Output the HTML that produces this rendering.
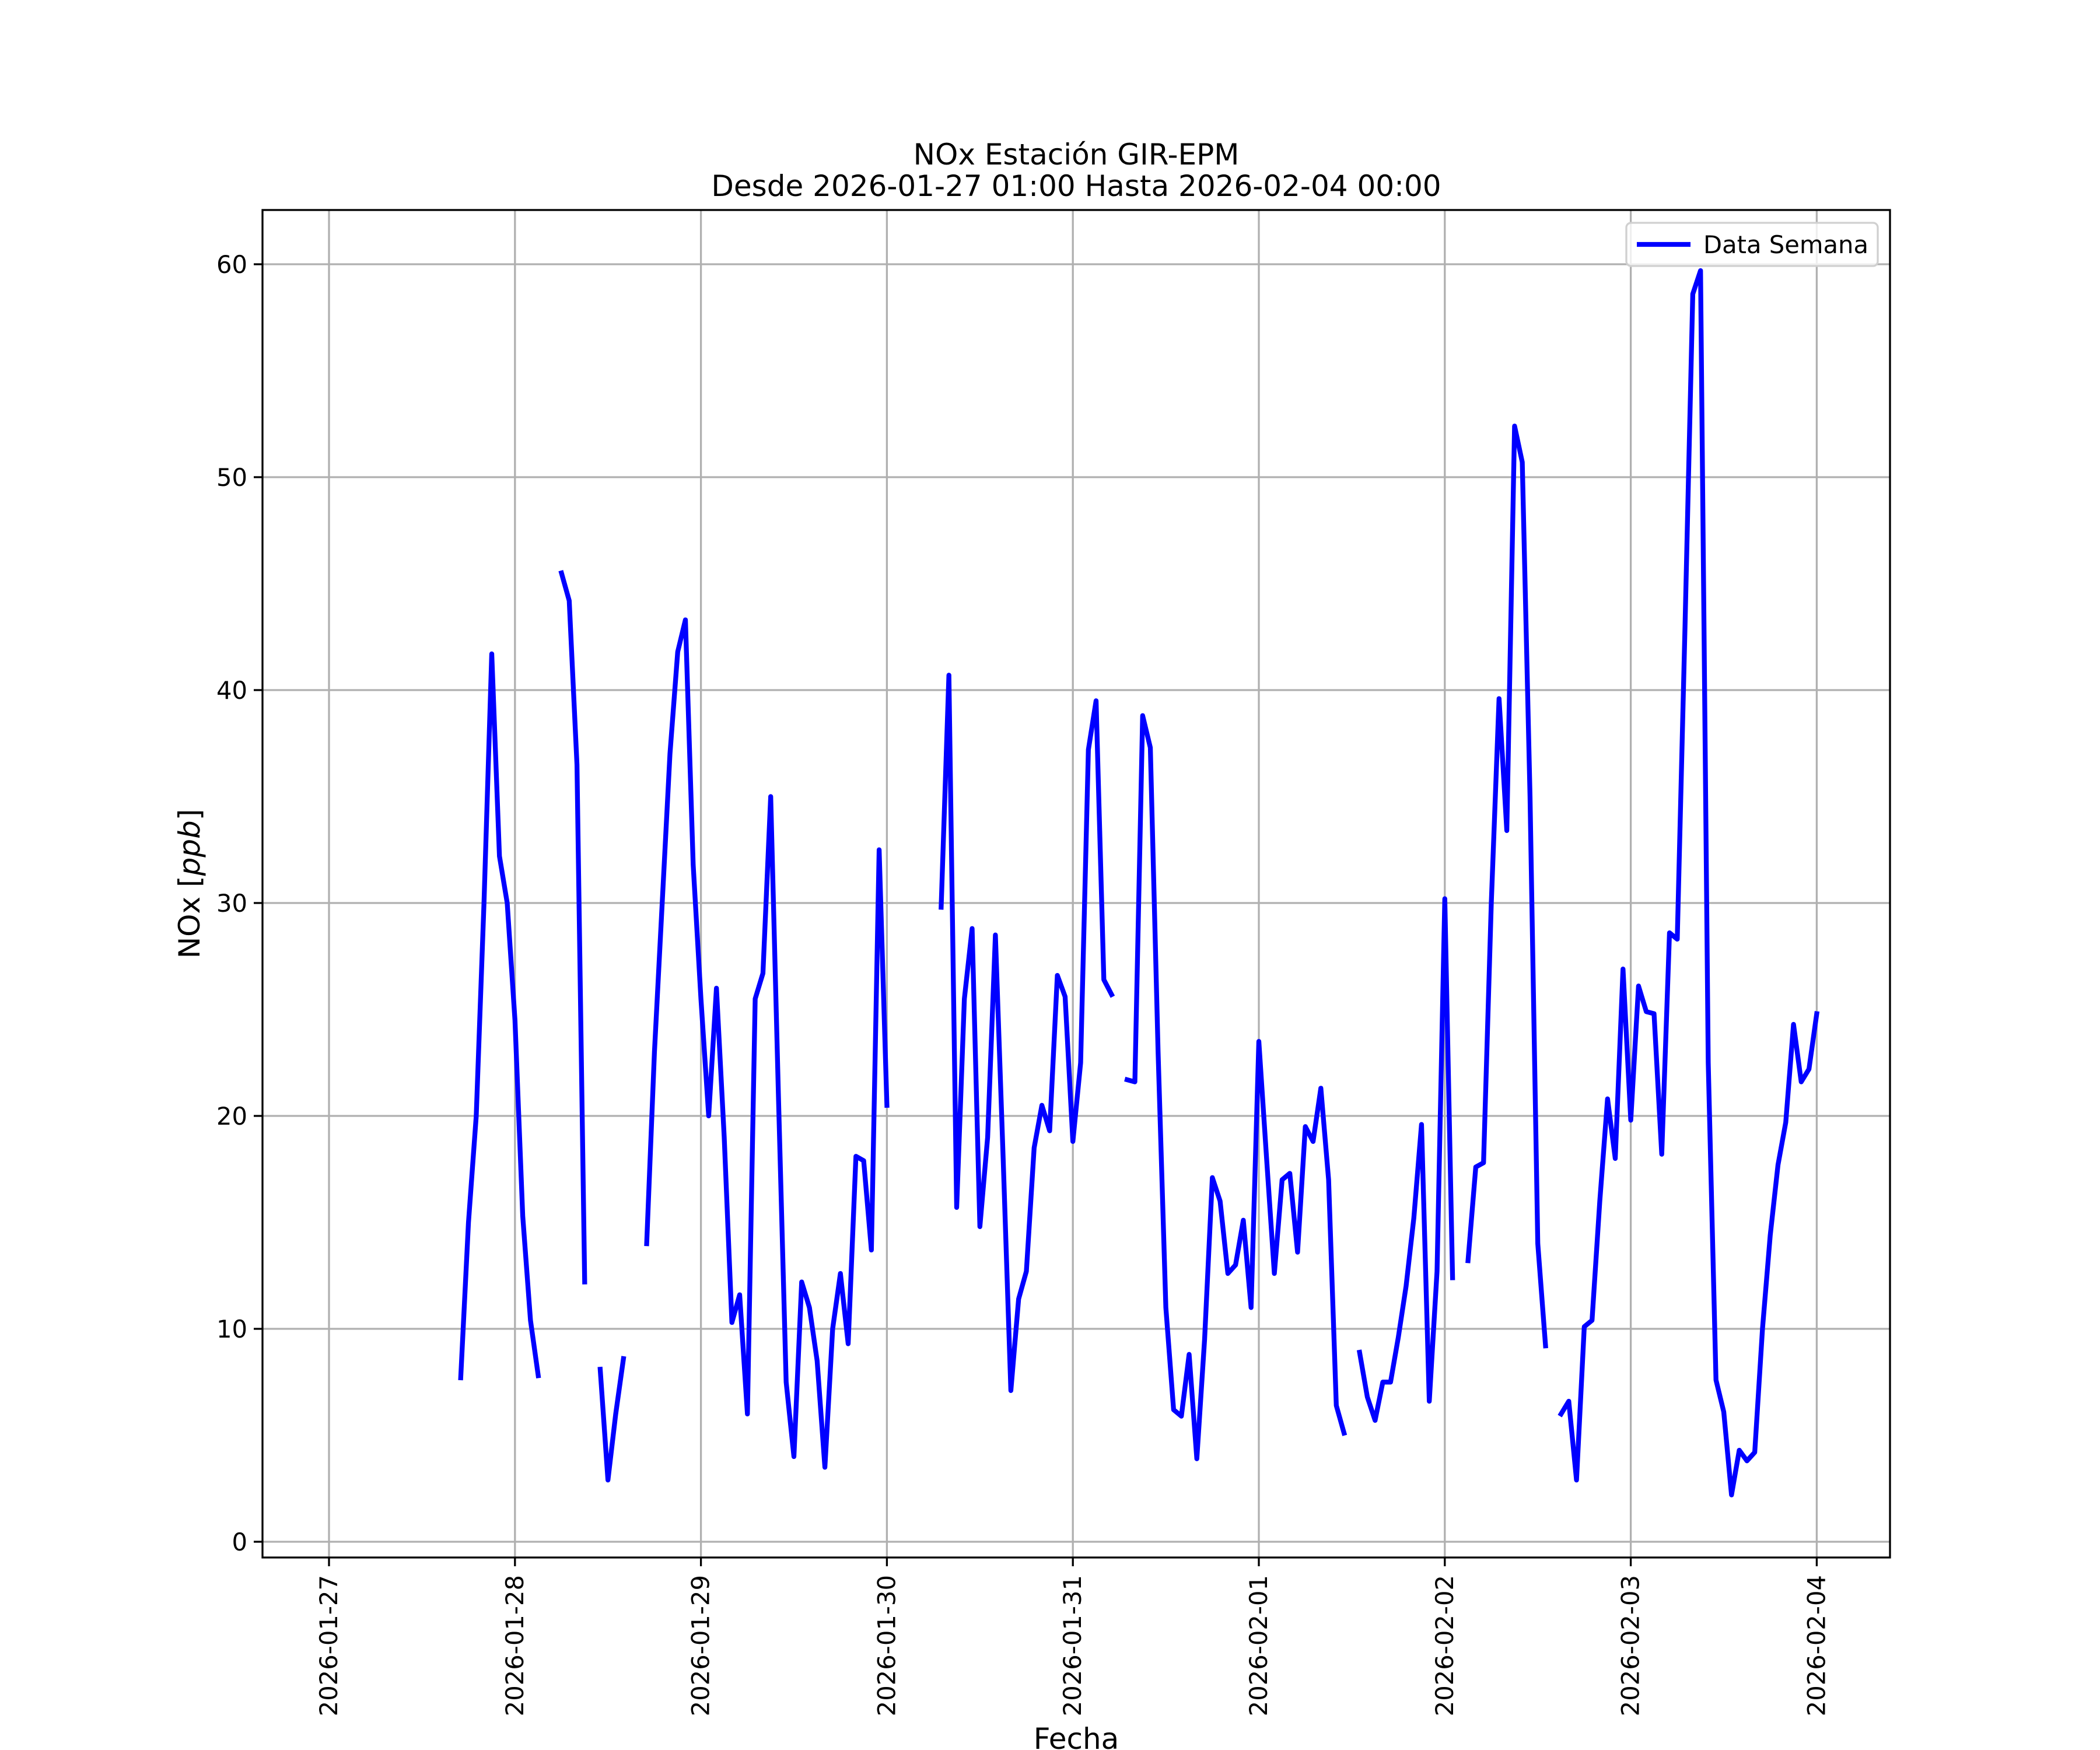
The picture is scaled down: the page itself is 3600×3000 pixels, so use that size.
<!DOCTYPE html>
<html><head><meta charset="utf-8"><style>
html,body{margin:0;padding:0;background:#fff;}
svg{display:block;font-family:"DejaVu Sans","Liberation Sans",sans-serif;}
</style></head><body>
<svg id="chart" width="3600" height="3000" viewBox="0 0 3600 3000" xmlns="http://www.w3.org/2000/svg">
<rect width="3600" height="3000" fill="#fff"/>
<g id="grid"></g>
<g id="series"></g>
<rect x="450" y="360" width="2790" height="2310" fill="none" stroke="#000" stroke-width="3.3"/>
<g id="ticks"></g>
<text x="1845" y="282" font-size="50" text-anchor="middle">NOx Estación GIR-EPM</text>
<text x="1845" y="336" font-size="50" text-anchor="middle">Desde 2026-01-27 01:00 Hasta 2026-02-04 00:00</text>
<text transform="translate(342,1515) rotate(-90)" font-size="50" text-anchor="middle">NOx [<tspan font-style="italic">ppb</tspan>]</text>
<text x="1845" y="2998" font-size="50" text-anchor="middle">Fecha</text>
<g>
<rect x="2788" y="382" width="431" height="74" rx="8" fill="#fff" fill-opacity="0.8" stroke="#d0d0d0" stroke-width="3.3"/>
<line x1="2806" y1="419" x2="2898" y2="419" stroke="#0000ff" stroke-width="8.3"/>
<text x="2920" y="434" font-size="41.7">Data Semana</text>
</g>
</svg>
<script>
const dayLabels = ["2026-01-27","2026-01-28","2026-01-29","2026-01-30","2026-01-31","2026-02-01","2026-02-02","2026-02-03","2026-02-04"];
const yTicks = [0,10,20,30,40,50,60];
// hour offsets from 2026-01-27 00:00, and NOx values (null = gap)
const hours = [17,18,19,20,21,22,23,24,25,26,27,28,
30,31,32,33,34,
35,36,37,38,39,
41,42,43,44,45,46,47,48,49,50,51,52,53,54,55,56,57,58,59,60,61,62,63,64,65,66,67,68,69,70,71,72,73,
79,80,81,82,83,84,85,86,87,88,89,90,91,92,93,94,95,96,97,98,99,100,101,102,
103,104,105,106,107,108,109,110,111,112,113,114,115,116,117,118,119,120,121,122,123,124,125,126,127,128,129,130,131,132,
133,134,135,136,137,138,139,140,141,142,143,144,145,146,
147,148,149,150,151,152,153,154,155,156,157,158,
159,160,161,162,163,164,165,166,167,168,169,170,171,172,173,174,175,176,177,178,179,180,181,182,183,184,185,186,187,188,189,190,191,192];
const values = [7.7,15,20,30,41.7,32.2,30,24.5,15.3,10.4,7.8,null,
45.5,44.2,36.5,12.2,null,
8.1,2.9,6,8.6,null,
14,23,30,37,41.8,43.3,31.8,25.5,20,26,19,10.3,11.6,6,25.5,26.7,35,21,7.5,4,12.2,11,8.5,3.5,10,12.6,9.3,18.1,17.9,13.7,32.5,20.5,null,
29.8,40.7,15.7,25.5,28.8,14.8,19,28.5,18,7.1,11.4,12.7,18.5,20.5,19.3,26.6,25.6,18.8,22.5,37.2,39.5,26.4,25.7,null,
21.7,21.6,38.8,37.3,23,11,6.2,5.9,8.8,3.9,9.5,17.1,16,12.6,13,15.1,11,23.5,18,12.6,17,17.3,13.6,19.5,18.8,21.3,17,6.4,5.1,null,
8.9,6.8,5.7,7.5,7.5,9.6,12,15.2,19.6,6.6,12.7,30.2,12.4,null,
13.2,17.6,17.8,30,39.6,33.4,52.4,50.7,35,14,9.2,null,
6,6.6,2.9,10.1,10.4,16,20.8,18,26.9,19.8,26.1,24.9,24.8,18.2,28.6,28.3,43,58.6,59.7,22.5,7.6,6.1,2.2,4.3,3.8,4.2,10,14.4,17.7,19.7,24.3,21.6,22.2,24.8];

const NS="http://www.w3.org/2000/svg";
const X0=564, DAY=318.8, Y0=2643, YU=36.5;
function xs(h){return X0+h*DAY/24;}
function ys(v){return Y0-v*YU;}
function mk(tag,attrs,parent){const e=document.createElementNS(NS,tag);for(const k in attrs)e.setAttribute(k,attrs[k]);parent.appendChild(e);return e;}
const grid=document.getElementById('grid'), ticks=document.getElementById('ticks'), series=document.getElementById('series');

dayLabels.forEach((lab,i)=>{
  const x=xs(i*24);
  const g=mk('line',{x1:x,y1:360,x2:x,y2:2670,stroke:'#b0b0b0','stroke-width':3.3},grid);
  
  
  const t=mk('line',{x1:x,y1:2670,x2:x,y2:2685,stroke:'#000','stroke-width':3.3},ticks);
  
  
  const tx=mk('text',{transform:`translate(${x+14},2700) rotate(-90)`,'font-size':41.7,'text-anchor':'end'},ticks);
  tx.textContent=lab;
  
  
});
yTicks.forEach(v=>{
  const y=ys(v);
  const g=mk('line',{x1:450,y1:y,x2:3240,y2:y,stroke:'#b0b0b0','stroke-width':3.3},grid);
  
  
  const t=mk('line',{x1:435,y1:y,x2:450,y2:y,stroke:'#000','stroke-width':3.3},ticks);
  
  
  const tx=mk('text',{x:424,y:y+15,'font-size':41.7,'text-anchor':'end'},ticks);
  tx.textContent=String(v);
  
  
});
let d='', pen=false;
hours.forEach((h,i)=>{
  const v=values[i];
  if(v===null||v===undefined){pen=false;return;}
  d+=(pen?'L':'M')+xs(h).toFixed(1)+' '+ys(v).toFixed(1)+' ';
  pen=true;
});
const p=mk('path',{d:d,fill:'none',stroke:'#0000ff','stroke-width':8.3,'stroke-linejoin':'round','stroke-linecap':'square'},series);


</script>
</body></html>
